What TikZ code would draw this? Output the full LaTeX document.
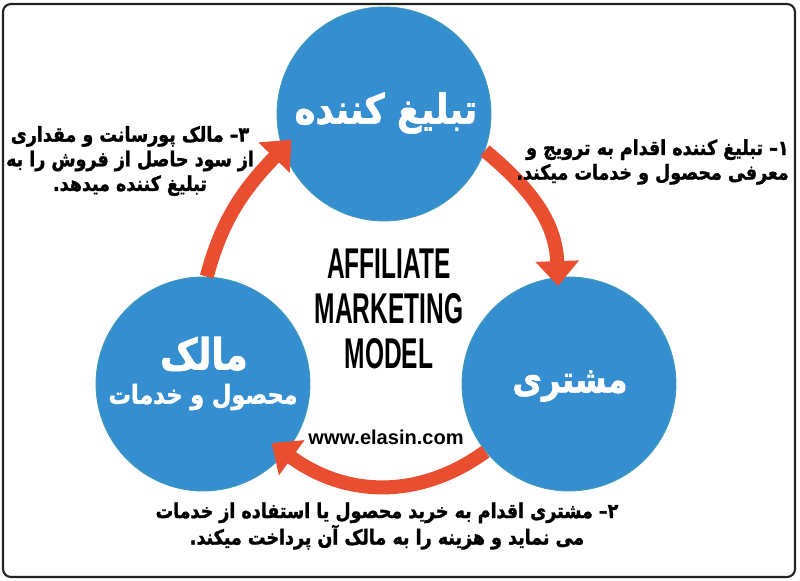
\documentclass[tikz,border=0pt]{standalone}
\usepackage{fontspec}
\usepackage{graphicx}
\setmainfont{Liberation Sans}
\newfontfamily\fafont[Script=Arabic, FakeStretch=0.85, BoldFeatures={FakeBold=1.5}]{DejaVu Sans}
\TeXXeTstate=1
\usetikzlibrary{arrows.meta}
\definecolor{rolefill}{HTML}{358ECF}
\definecolor{roleborder}{HTML}{3F9DB2}
\definecolor{cyclered}{HTML}{E94E31}
\definecolor{darkline}{HTML}{222222}
\newcommand{\fa}[1]{{\fafont\bfseries\beginR #1\endR}}
\newcommand{\narrowcaps}[1]{\scalebox{0.57}[1]{#1}}
\tikzset{
  frame/.style={draw=darkline, line width=1.2pt, rounded corners=1.6mm},
  role/.style={circle, fill=rolefill, draw=roleborder, line width=0.5pt, minimum size=42.8mm, inner sep=0pt},
  roletext/.style={inner sep=0pt, text=white, font=\fontsize{23.5}{26}\selectfont},
  note/.style={inner sep=0pt, font=\fontsize{11.7}{14}\selectfont},
  title/.style={align=center, inner sep=0pt, font=\fontsize{24.5}{25.6}\selectfont\bfseries},
  site/.style={inner sep=0pt, font=\fontsize{11.4}{12}\selectfont\bfseries},
  flow/.style={-{Triangle[width=8.4mm, length=5mm]}, line width=2.8mm, draw=cyclered}
}
\begin{document}
\begin{tikzpicture}[x=0.2mm, y=0.2mm]
\useasboundingbox (0,0) rectangle (800,581);
\fill[white] (0,0) rectangle (800,581);
\draw[frame] (3,4) rectangle (795,577);

% the three roles
\node[role] (adv) at (384,467) {};
\node[role] (owner) at (203,197) {};
\node[role] (customer) at (569,197) {};
\node[roletext] (advname) at (386,468) {\fa{تبلیغ کننده}};
\node[roletext, font=\fontsize{24.5}{26}\selectfont] (ownername) at (204,227) {\fa{مالک}};
\node[roletext, font=\fontsize{15}{18}\selectfont] (ownerline) at (203,184) {\fa{محصول و خدمات}};
\node[roletext, font=\fontsize{21.5}{24}\selectfont] (customername) at (570,195) {\fa{مشتری}};

% centre
\node[title] (model) at (389,272) {\narrowcaps{AFFILIATE}\\\narrowcaps{MARKETING}\\\narrowcaps{MODEL}};
\node[site] (site) at (386,144) {www.elasin.com};

% cycle
\draw[flow, shorten >=-1.8mm] (adv.-20) to[out=-40, in=92] (customer.96);
\draw[flow, shorten >=-3.4mm] (customer.219) to[out=216, in=-36] (owner.-40);
\draw[flow, shorten >=-2.6mm] (owner.88) to[out=75, in=-134] (adv.199);

% steps
\node[note, align=right, anchor=east] (step1) at (789,419) {\fa{۱– تبلیغ کننده اقدام به ترویج و}\\\fa{معرفی محصول و خدمات میکند.}};
\node[note, align=center] (step2) at (387,55) {\fa{۲– مشتری اقدام به خرید محصول یا استفاده از خدمات}\\\fa{می نماید و هزینه را به مالک آن پرداخت میکند.}};
\node[note, align=center] (step3) at (130,420) {\fa{۳– مالک پورسانت و مقداری}\\\fa{از سود حاصل از فروش را به}\\\fa{تبلیغ کننده میدهد.}};

\end{tikzpicture}
\end{document}
